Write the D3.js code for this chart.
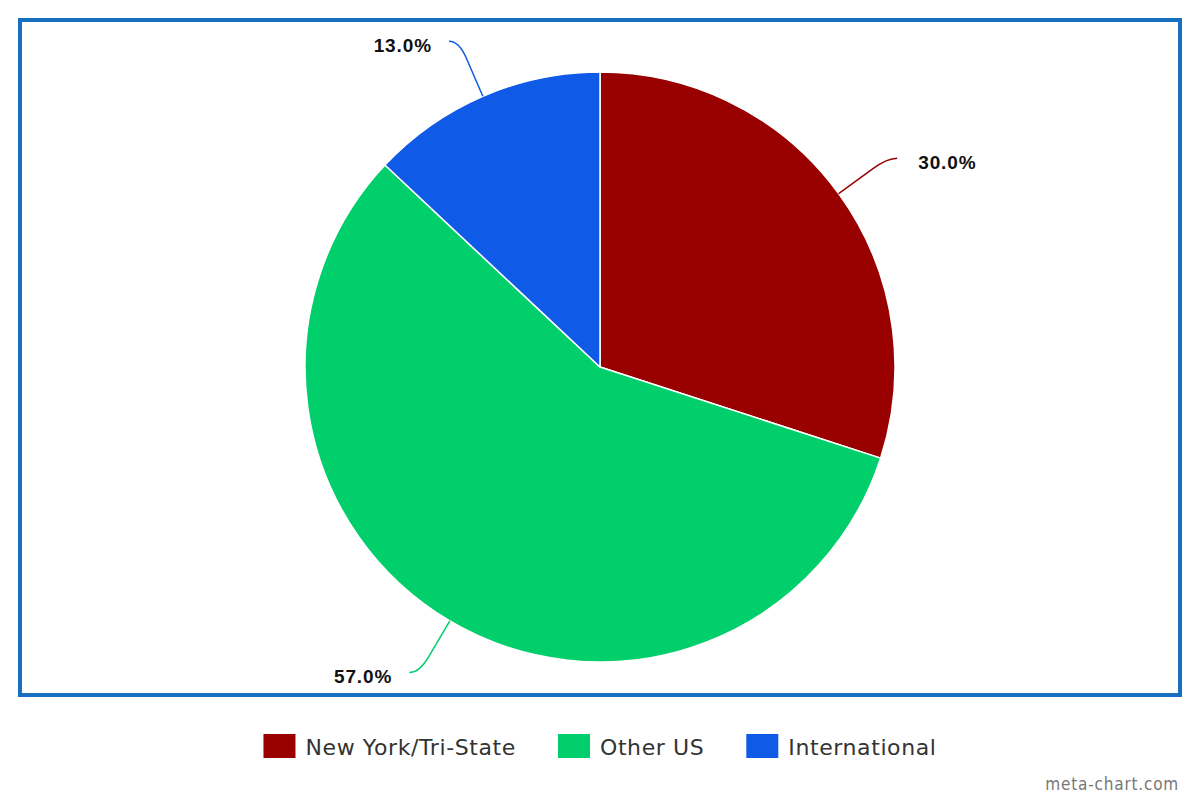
<!DOCTYPE html>
<html><head><meta charset="utf-8">
<script src="https://cdn.jsdelivr.net/npm/d3@7"></script>
<style>body{margin:0;background:#fff}svg{display:block}</style>
</head><body>
<script>
const categories = ["New York/Tri-State", "Other US", "International"];
const values = [30.0, 57.0, 13.0];
const colors = ["#990000", "#00cf6b", "#0f5ae6"];

const W = 1200, H = 800;
const svg = d3.select("body").append("svg").attr("width", W).attr("height", H);

svg.append("rect").attr("x", 20).attr("y", 20).attr("width", 1160).attr("height", 675)
  .attr("fill", "#fff").attr("stroke", "#1870c0").attr("stroke-width", 4);

const cx = 600, cy = 367, r = 295;
const data = categories.map((c, i) => ({cat: c, value: values[i], color: colors[i]}));
const pie = d3.pie().value(d => d.value).sort(null);
const arcs = pie(data);
const arc = d3.arc().innerRadius(0).outerRadius(r);
const g = svg.append("g").attr("transform", `translate(${cx},${cy})`);

g.selectAll("path.slice").data(arcs).enter().append("path")
  .attr("class", "slice").attr("d", arc).attr("fill", d => d.data.color)
  .attr("stroke", "#fff").attr("stroke-width", 1.5).attr("stroke-linejoin", "round");

function pt(a, rad) { return [Math.sin(a) * rad, -Math.cos(a) * rad]; }

arcs.forEach(d => {
  const a = (d.startAngle + d.endAngle) / 2;
  const side = Math.sin(a) >= 0 ? 1 : -1;
  const p0 = pt(a, r), p1 = pt(a, r + 42), p2 = pt(a, r + 60);
  const end = [p2[0] + side * 10, p2[1]];
  g.append("path")
    .attr("d", `M${p0[0]},${p0[1]} L${p1[0]},${p1[1]} Q${p2[0]},${p2[1]} ${end[0]},${end[1]}`)
    .attr("fill", "none").attr("stroke", d.data.color).attr("stroke-width", 1.5);
  g.append("text")
    .attr("x", end[0] + side * (side > 0 ? 21 : 17)).attr("y", end[1] + 10.5)
    .attr("text-anchor", side > 0 ? "start" : "end")
    .attr("font-family", "Liberation Sans, Arial, sans-serif")
    .attr("font-weight", "bold").attr("font-size", 19).attr("letter-spacing", 0.9)
    .attr("fill", "#111")
    .text(d3.format(".1f")(d.data.value) + "%");
});

// legend
const lg = svg.append("g");
const items = lg.selectAll("g").data(data).enter().append("g");
items.append("rect").attr("width", 32).attr("height", 24).attr("y", 734).attr("fill", d => d.color);
items.append("text").attr("x", 42).attr("y", 755)
  .attr("font-family", "DejaVu Sans, sans-serif").attr("font-size", 22).attr("fill", "#333")
  .attr("letter-spacing", 0.6)
  .text(d => d.cat);
let widths = [];
items.each(function(){ widths.push(this.getBBox().width); });
const gap = 42;
const total = d3.sum(widths) + gap * (widths.length - 1);
let x = 600 - total / 2;
items.each(function(d, i){ d3.select(this).attr("transform", `translate(${x},0)`); x += widths[i] + gap; });

svg.append("text").attr("x", 1179).attr("y", 790).attr("text-anchor", "end")
  .attr("font-family", "DejaVu Sans Condensed, sans-serif").attr("font-size", 17)
  .attr("letter-spacing", 0.8)
  .attr("fill", "#777").text("meta-chart.com");
</script>
</body></html>
